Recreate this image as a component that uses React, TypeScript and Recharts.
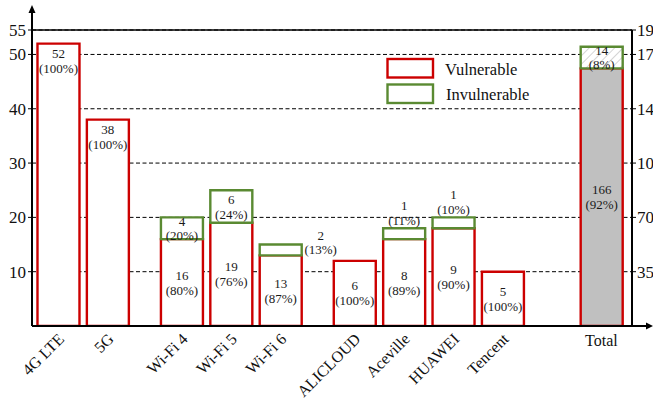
import React from 'react';
import { BarChart, Bar, XAxis, YAxis, CartesianGrid, ReferenceLine, LabelList } from 'recharts';

const categories = ['4G LTE', '5G', 'Wi-Fi 4', 'Wi-Fi 5', 'Wi-Fi 6', 'ALICLOUD', 'Aceville', 'HUAWEI', 'Tencent', 'Total'];
const vulnerable = [52, 38, 16, 19, 13, 6, 8, 9, 5, 166];
const invulnerable = [0, 0, 4, 6, 2, 0, 1, 1, 0, 14];
const groupOf = [0, 0, 1, 1, 1, 2, 2, 2, 2, 3];
const leftTicks = [10, 20, 30, 40, 50, 54.5];
const rightTicks = [35, 70, 105, 140, 175, 190.75];

// which y axis each group is drawn against, and the extra space before it
const groupAxis = ['left', 'left', 'vendor', 'right'];
const groupGap = [0, 0.5, 0.5, 1];

const RED = '#cc0000';
const GREEN = '#5a8a32';
const GREY = '#c0c0c0';
const FONT = "'Liberation Serif', 'Times New Roman', serif";

const W = 653;
const H = 404;
const M = { top: 30, right: 0, bottom: 0, left: 0 };
const LEFT_W = 32;
const RIGHT_W = 21;
const X_H = 78;
const plotLeft = M.left + LEFT_W;
const plotRight = W - M.right - RIGHT_W;
const plotTop = M.top;
const plotBottom = H - M.bottom - X_H;

let cursor = -1;
const positions = categories.map((_, i) => {
  const newGroup = i > 0 && groupOf[i] !== groupOf[i - 1];
  cursor += 1 + (newGroup ? groupGap[groupOf[i]] : 0);
  return cursor;
});

const data = categories.map((name, i) => {
  const axis = groupAxis[groupOf[i]];
  const row: Record<string, any> = { name, pos: positions[i] };
  row['vul_' + axis] = vulnerable[i];
  row['inv_' + axis] = invulnerable[i] || undefined;
  return row;
});

const vulPlace: Record<string, string> = { '4G LTE': 'top', '5G': 'top' };
const invPlace: Record<string, string> = {
  'Wi-Fi 6': 'right',
  ALICLOUD: 'above',
  Aceville: 'above',
  HUAWEI: 'above',
  Tencent: 'above',
};

const makeLabel = (kind: 'vul' | 'inv', axis: string) => (props: any) => {
  const i = categories.indexOf(props.value);
  if (i < 0 || groupAxis[groupOf[i]] !== axis) return null;
  const value = kind === 'vul' ? vulnerable[i] : invulnerable[i];
  if (!value) return null;
  const vb = props.viewBox || props;
  const x = vb.x;
  const width = vb.width;
  const y = Math.min(vb.y, vb.y + vb.height);
  const height = Math.abs(vb.height);
  const pct = Math.round((100 * value) / (vulnerable[i] + invulnerable[i]));
  const place = (kind === 'vul' ? vulPlace : invPlace)[props.value] || 'center';
  let cx = x + width / 2;
  let y1: number;
  let y2: number;
  if (place === 'top') {
    y1 = y + 10;
    y2 = y + 25;
  } else if (place === 'right') {
    cx = x + width + 19;
    y2 = y + height / 2;
    y1 = y2 - 14;
  } else if (place === 'above') {
    y2 = y - 8;
    y1 = y2 - 15;
  } else {
    const gap = Math.max(14, Math.min(15, height / 2));
    y1 = y + height / 2 - gap / 2;
    y2 = y + height / 2 + gap / 2;
  }
  const common = {
    x: cx,
    textAnchor: 'middle' as const,
    dominantBaseline: 'central' as const,
    fontSize: 13,
    fontFamily: FONT,
    fill: '#1a1a1a',
  };
  return (
    <g>
      <text {...common} y={y1}>{value}</text>
      <text {...common} y={y2}>{`(${pct}%)`}</text>
    </g>
  );
};

const XTick = (props: any) => {
  const { x, y, payload } = props;
  const i = positions.indexOf(payload.value);
  const name = categories[i];
  if (!name) return null;
  if (name === 'Total') {
    return (
      <text x={x} y={y + 20} textAnchor="middle" fontSize={16} fontFamily={FONT} fill="#111">
        {name}
      </text>
    );
  }
  return (
    <text
      transform={`translate(${x + 7},${y + 14}) rotate(-45)`}
      textAnchor="end"
      fontSize={16}
      fontFamily={FONT}
      fill="#111"
    >
      {name}
    </text>
  );
};

const barCommon = { stackId: 's', barSize: 42, strokeWidth: 2.4, isAnimationActive: false };

export default function App() {
  return (
    <div style={{ position: 'absolute', left: 0, top: 0, width: W, height: H, background: '#fff', overflow: 'hidden' }}>
      <BarChart width={W} height={H} data={data} margin={M} style={{ fontFamily: FONT }}>
        <defs>
          <pattern id="hatch" width="6" height="6" patternUnits="userSpaceOnUse" patternTransform="rotate(45)">
            <rect width="6" height="6" fill="#fff" />
            <line x1="0" y1="0" x2="0" y2="6" stroke="#c8c8c8" strokeWidth="1.5" />
          </pattern>
        </defs>
        <CartesianGrid yAxisId="left" vertical={false} stroke="#000" strokeDasharray="4 2.5" />
        <XAxis
          dataKey="pos"
          type="number"
          domain={[-0.53, 11.62]}
          ticks={positions}
          interval={0}
          allowDataOverflow
          tickLine={false}
          tickSize={0}
          tickMargin={0}
          height={X_H}
          axisLine={{ stroke: '#000', strokeWidth: 2 }}
          tick={<XTick />}
        />
        <YAxis
          yAxisId="left"
          domain={[0, 54.5]}
          ticks={leftTicks}
          interval={0}
          allowDataOverflow
          width={LEFT_W}
          tickSize={4}
          tickMargin={2}
          tickFormatter={(v: number) => (v === 54.5 ? '55' : String(v))}
          tick={{ fill: '#111', fontSize: 17, fontFamily: FONT }}
          tickLine={{ stroke: '#000' }}
          axisLine={{ stroke: '#000', strokeWidth: 2 }}
        />
        <YAxis yAxisId="vendor" hide domain={[0, 27.25]} allowDataOverflow />
        <YAxis
          yAxisId="right"
          orientation="right"
          domain={[0, 190.75]}
          ticks={rightTicks}
          interval={0}
          allowDataOverflow
          width={RIGHT_W}
          tickSize={4}
          tickMargin={1}
          tickFormatter={(v: number) => String(Math.round(v))}
          tick={{ fill: '#111', fontSize: 17, fontFamily: FONT }}
          tickLine={{ stroke: '#000' }}
          axisLine={{ stroke: '#000', strokeWidth: 2 }}
        />
        <ReferenceLine yAxisId="left" y={54.5} stroke="#000" strokeWidth={1.5} />

        <Bar {...barCommon} dataKey="vul_left" yAxisId="left" fill="#fff" stroke={RED}>
          <LabelList dataKey="name" content={makeLabel('vul', 'left')} />
        </Bar>
        <Bar {...barCommon} dataKey="inv_left" yAxisId="left" fill="#fff" stroke={GREEN}>
          <LabelList dataKey="name" content={makeLabel('inv', 'left')} />
        </Bar>
        <Bar {...barCommon} dataKey="vul_vendor" yAxisId="vendor" fill="#fff" stroke={RED}>
          <LabelList dataKey="name" content={makeLabel('vul', 'vendor')} />
        </Bar>
        <Bar {...barCommon} dataKey="inv_vendor" yAxisId="vendor" fill="#fff" stroke={GREEN}>
          <LabelList dataKey="name" content={makeLabel('inv', 'vendor')} />
        </Bar>
        <Bar {...barCommon} dataKey="vul_right" yAxisId="right" fill={GREY} stroke={RED}>
          <LabelList dataKey="name" content={makeLabel('vul', 'right')} />
        </Bar>
        <Bar {...barCommon} dataKey="inv_right" yAxisId="right" fill="url(#hatch)" stroke={GREEN}>
          <LabelList dataKey="name" content={makeLabel('inv', 'right')} />
        </Bar>
      </BarChart>

      {/* axis arrows and legend */}
      <svg width={W} height={H} style={{ position: 'absolute', left: 0, top: 0, pointerEvents: 'none' }}>
        <line x1={plotLeft} y1={plotTop} x2={plotLeft} y2={12} stroke="#000" strokeWidth={2} />
        <path d={`M${plotLeft},5 L${plotLeft - 3.5},13 L${plotLeft + 3.5},13 Z`} fill="#000" />
        <line x1={plotRight} y1={plotBottom} x2={647} y2={plotBottom} stroke="#000" strokeWidth={2} />
        <path d={`M${W},${plotBottom} L${W - 7},${plotBottom - 3.5} L${W - 7},${plotBottom + 3.5} Z`} fill="#000" />

        <rect x={387.5} y={59} width={45.5} height={18.5} fill="#fff" stroke={RED} strokeWidth={2.4} />
        <text x={445} y={74.5} fontSize={16.5} fontFamily={FONT} fill="#111">Vulnerable</text>
        <rect x={387.5} y={84.5} width={45.5} height={18.5} fill="#fff" stroke={GREEN} strokeWidth={2.4} />
        <text x={446} y={100} fontSize={16.5} fontFamily={FONT} fill="#111">Invulnerable</text>
      </svg>
    </div>
  );
}
